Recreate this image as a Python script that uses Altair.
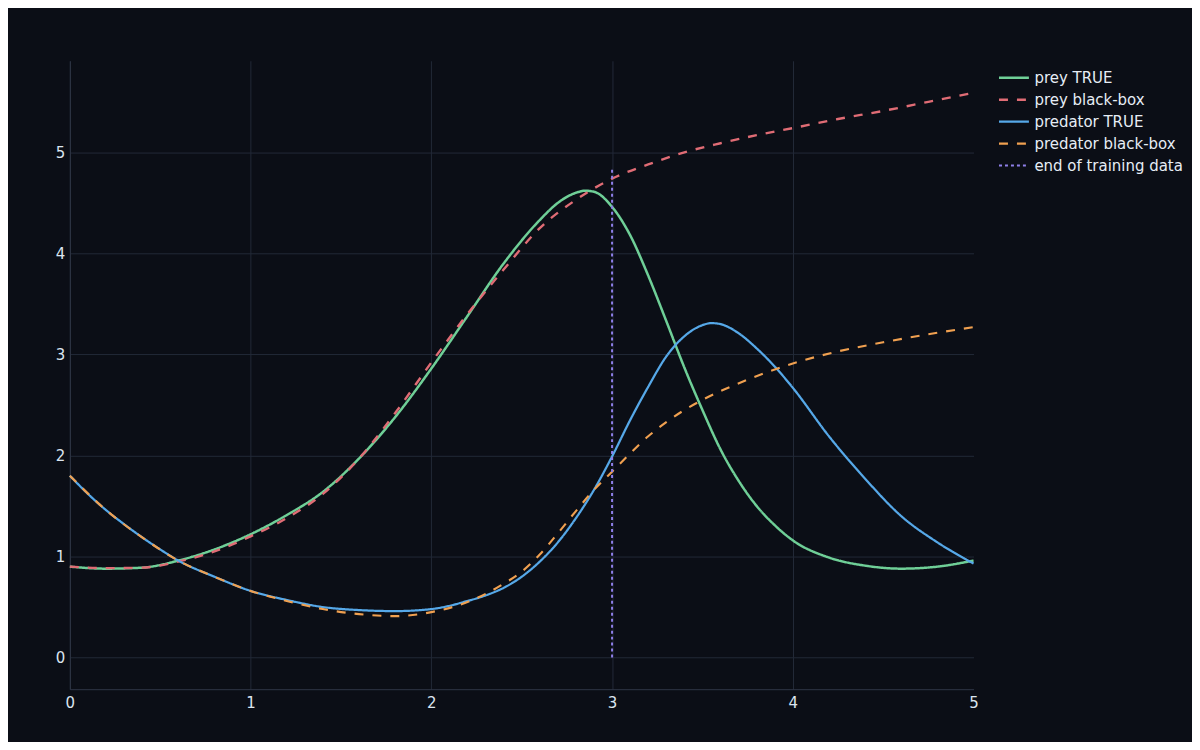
import altair as alt
import pandas as pd

# ---- data ----
prey_true_t = [0, 0.2, 0.4, 0.6, 0.8, 1.0, 1.2, 1.4, 1.6, 1.8, 2.0, 2.2, 2.4, 2.6, 2.7, 2.8, 2.85, 2.9,
               3.0, 3.1, 3.2, 3.3, 3.4, 3.5, 3.6, 3.7, 3.8, 3.9, 4.0, 4.2, 4.4, 4.6, 4.8, 5.0]
prey_true_v = [0.90, 0.88, 0.89, 0.96, 1.07, 1.22, 1.41, 1.64, 1.97, 2.38, 2.86, 3.38, 3.90, 4.33, 4.50, 4.60, 4.62, 4.61,
               4.46, 4.18, 3.78, 3.33, 2.87, 2.45, 2.06, 1.75, 1.50, 1.31, 1.16, 0.99, 0.91, 0.88, 0.90, 0.96]

prey_bb_t = [0, 0.2, 0.4, 0.6, 0.8, 1.0, 1.2, 1.4, 1.6, 1.8, 2.0, 2.2, 2.4, 2.6, 2.8, 3.0, 3.2, 3.4,
             3.6, 3.8, 4.0, 4.25, 4.5, 4.75, 5.0]
prey_bb_v = [0.90, 0.885, 0.89, 0.95, 1.05, 1.20, 1.38, 1.62, 1.97, 2.42, 2.92, 3.40, 3.84, 4.25, 4.53, 4.74, 4.88, 5.00,
             5.09, 5.17, 5.24, 5.33, 5.41, 5.50, 5.59]

pred_true_t = [0, 0.1, 0.2, 0.3, 0.4, 0.5, 0.6, 0.8, 1.0, 1.2, 1.4, 1.6, 1.8, 2.0, 2.2, 2.3, 2.4, 2.5, 2.6, 2.7, 2.8,
               2.9, 3.0, 3.1, 3.2, 3.3, 3.4, 3.5, 3.55, 3.6, 3.7, 3.8, 3.9, 4.0, 4.2, 4.4, 4.6, 4.8, 5.0]
pred_true_v = [1.80, 1.62, 1.46, 1.32, 1.19, 1.07, 0.96, 0.80, 0.66, 0.57, 0.50, 0.47, 0.46, 0.48, 0.56, 0.615, 0.69,
               0.80, 0.95, 1.14, 1.38, 1.66, 1.99, 2.35, 2.68, 2.98, 3.18, 3.29, 3.31, 3.30, 3.21, 3.06, 2.88, 2.67,
               2.19, 1.77, 1.40, 1.14, 0.93]

pred_bb_t = [0, 0.2, 0.4, 0.6, 0.8, 1.0, 1.2, 1.4, 1.6, 1.8, 2.0, 2.2, 2.4, 2.5, 2.6, 2.7, 2.8, 2.9, 3.0, 3.1,
             3.2, 3.3, 3.4, 3.5, 3.75, 4.0, 4.25, 4.5, 4.75, 5.0]
pred_bb_v = [1.80, 1.46, 1.19, 0.96, 0.80, 0.66, 0.56, 0.48, 0.43, 0.41, 0.45, 0.55, 0.73, 0.85, 1.02, 1.23, 1.45, 1.66,
             1.84, 2.02, 2.19, 2.33, 2.45, 2.55, 2.75, 2.91, 3.03, 3.12, 3.20, 3.27]

end_t = [3.0, 3.0]
end_v = [0.0, 4.85]

series_names = ["prey TRUE", "prey black-box", "predator TRUE", "predator black-box", "end of training data"]
series_colors = ["#6fcf97", "#e06c75", "#56a8e8", "#f0a050", "#8e7fe8"]
series_dashes = [[1, 0], [9, 9], [1, 0], [9, 9], [3, 3]]
series_widths = [2.5, 2, 2.5, 2, 1.5]

x_ticks = [0, 1, 2, 3, 4, 5]
y_ticks = [0, 1, 2, 3, 4, 5]

rows = []
for name, ts, vs in zip(series_names,
                        [prey_true_t, prey_bb_t, pred_true_t, pred_bb_t, end_t],
                        [prey_true_v, prey_bb_v, pred_true_v, pred_bb_v, end_v]):
    for i, (t, v) in enumerate(zip(ts, vs)):
        rows.append({"series": name, "t": t, "v": v, "i": i})
df = pd.DataFrame(rows)

BG = "#0b0e16"
GRID = "#222937"
DOMAIN = "#2e3545"
TXT = "#dbe5f0"

legend_def = dict(
    title=None, orient="none", legendX=930, legendY=6,
    symbolType="stroke", symbolSize=900, symbolStrokeWidth=2,
    labelFontSize=15, labelColor="#e6edf5", labelFont="DejaVu Sans",
    labelOffset=4, clipHeight=22, rowPadding=0, padding=0,
)

chart = alt.Chart(df).mark_line(interpolate="monotone").encode(
    x=alt.X("t:Q", title=None,
            scale=alt.Scale(domain=[0, 5], nice=False, zero=False),
            axis=alt.Axis(values=x_ticks, format="d", grid=True, gridColor=GRID,
                          gridOpacity=alt.condition("datum.value == 5", alt.value(0), alt.value(1)),
                          domainColor=DOMAIN, ticks=False, labelPadding=6, labelFlush=False,
                          labelColor=TXT, labelFontSize=15, labelFont="DejaVu Sans")),
    y=alt.Y("v:Q", title=None,
            scale=alt.Scale(domain=[-0.313, 5.906], nice=False, zero=False),
            axis=alt.Axis(values=y_ticks, format="d", grid=True, gridColor=GRID,
                          domainColor=DOMAIN, ticks=False, labelPadding=5, labelFlush=False,
                          labelColor=TXT, labelFontSize=15, labelFont="DejaVu Sans")),
    color=alt.Color("series:N", scale=alt.Scale(domain=series_names, range=series_colors),
                    legend=alt.Legend(**legend_def)),
    strokeDash=alt.StrokeDash("series:N", scale=alt.Scale(domain=series_names, range=series_dashes),
                              legend=alt.Legend(**legend_def)),
    strokeWidth=alt.StrokeWidth("series:N", scale=alt.Scale(domain=series_names, range=series_widths),
                                legend=None),
    order="i:Q",
).properties(
    width=906, height=630,
    background=BG,
    autosize=alt.AutoSizeParams(type="none"),
    padding={"left": 62, "top": 52, "right": 219, "bottom": 52},
).configure(font="DejaVu Sans").configure_view(strokeWidth=0, stroke="transparent")

chart.save("out.html", embed_options={"renderer": "svg", "actions": False})
